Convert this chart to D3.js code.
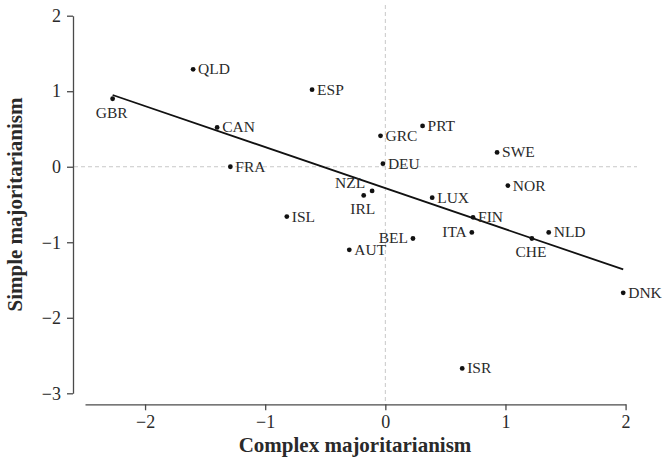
<!DOCTYPE html>
<html>
<head>
<meta charset="utf-8">
<script src="https://cdn.jsdelivr.net/npm/d3@7"></script>
<style>
  body { margin: 0; background: #fff; }
  svg { display: block; }
  text { font-family: "Liberation Serif", "Times New Roman", serif; fill: #2a2a2a; }
  .axis path, .axis line { stroke: #4a4a4a; stroke-width: 1.3; }
  .axis text { font-size: 18px; }
  .lbl { font-size: 15.5px; }
  .title { font-size: 21px; font-weight: bold; }
</style>
</head>
<body>
<svg id="chart" width="662" height="461"></svg>
<script>
var codes = ['QLD', 'GBR', 'ESP', 'CAN', 'FRA', 'GRC', 'PRT', 'DEU', 'SWE', 'NZL', 'IRL',
             'NOR', 'LUX', 'ISL', 'FIN', 'ITA', 'BEL', 'AUT', 'CHE', 'NLD', 'DNK', 'ISR'];
var complexVals = [-1.60, -2.27, -0.61, -1.40, -1.29, -0.04, 0.31, -0.02, 0.93, -0.11, -0.18,
                   1.02, 0.39, -0.82, 0.73, 0.72, 0.23, -0.30, 1.22, 1.36, 1.98, 0.64];
var simpleVals = [1.29, 0.90, 1.02, 0.52, 0.00, 0.41, 0.54, 0.04, 0.19, -0.32, -0.38,
                  -0.25, -0.41, -0.66, -0.67, -0.87, -0.95, -1.10, -0.95, -0.87, -1.67, -2.67];
// where the label sits relative to its dot
var labelSide = ['r', 'b', 'r', 'r', 'r', 'r', 'r', 'r', 'r', 'tl', 'b',
                 'r', 'r', 'r', 'r', 'l', 'l', 'r', 'b', 'r', 'r', 'r'];

// fitted line, read at its two ends
var fitX = [-2.27, 1.98];
var fitY = [0.95, -1.36];

var xTicks = [-2, -1, 0, 1, 2];
var yTicks = [-3, -2, -1, 0, 1, 2];

var svg = d3.select('#chart');

var x = d3.scaleLinear().domain([-2.5, 2]).range([85, 625.6]);
var y = d3.scaleLinear().domain([-3, 2]).range([393.3, 15.7]);

var fmt = function(d) { return d < 0 ? '\u2212' + Math.abs(d) : String(d); };

// ----- reference lines at zero ----------------------------------------------
svg.append('line')
    .attr('x1', 74).attr('x2', 637)
    .attr('y1', y(0)).attr('y2', y(0))
    .attr('stroke', '#c8c8c8').attr('stroke-width', 1)
    .attr('stroke-dasharray', '4,3');

svg.append('line')
    .attr('x1', x(0)).attr('x2', x(0))
    .attr('y1', 5).attr('y2', 403)
    .attr('stroke', '#c8c8c8').attr('stroke-width', 1)
    .attr('stroke-dasharray', '4,3');

// ----- axes -----------------------------------------------------------------
svg.append('g')
    .attr('class', 'axis')
    .attr('transform', 'translate(73,0)')
    .call(d3.axisLeft(y).tickValues(yTicks).tickFormat(fmt).tickSizeInner(6).tickSizeOuter(0).tickPadding(6))
    .call(function(g) { g.selectAll('text').attr('font-family', null).attr('font-size', null); });

svg.append('g')
    .attr('class', 'axis')
    .attr('transform', 'translate(0,404.3)')
    .call(d3.axisBottom(x).tickValues(xTicks).tickFormat(fmt).tickSizeInner(6).tickSizeOuter(0).tickPadding(5))
    .call(function(g) { g.selectAll('text').attr('font-family', null).attr('font-size', null); });

svg.append('text')
    .attr('class', 'title')
    .attr('x', 355).attr('y', 452)
    .attr('text-anchor', 'middle')
    .text('Complex majoritarianism');

svg.append('text')
    .attr('class', 'title')
    .attr('transform', 'translate(22,204.5) rotate(-90)')
    .attr('text-anchor', 'middle')
    .text('Simple majoritarianism');

// ----- fit line -------------------------------------------------------------
svg.append('line')
    .attr('x1', x(fitX[0])).attr('y1', y(fitY[0]))
    .attr('x2', x(fitX[1])).attr('y2', y(fitY[1]))
    .attr('stroke', '#111').attr('stroke-width', 1.8);

// ----- points and labels ----------------------------------------------------
var data = codes.map(function(c, i) {
  return { code: c, cx: complexVals[i], sy: simpleVals[i], side: labelSide[i] };
});

svg.selectAll('circle.pt')
    .data(data)
  .enter().append('circle')
    .attr('class', 'pt')
    .attr('cx', function(d) { return x(d.cx); })
    .attr('cy', function(d) { return y(d.sy); })
    .attr('r', 2.4)
    .attr('fill', '#111');

svg.selectAll('text.lbl')
    .data(data)
  .enter().append('text')
    .attr('class', 'lbl')
    .attr('x', function(d) {
      var px = x(d.cx);
      if (d.side === 'r') return px + 5;
      if (d.side === 'l') return px - 5;
      if (d.side === 'tl') return px - 7;
      return px - 1;
    })
    .attr('y', function(d) {
      var py = y(d.sy);
      if (d.side === 'b') return py + 19;
      if (d.side === 'tl') return py - 3;
      return py + 5;
    })
    .attr('text-anchor', function(d) {
      if (d.side === 'l' || d.side === 'tl') return 'end';
      if (d.side === 'b') return 'middle';
      return 'start';
    })
    .text(function(d) { return d.code; });
</script>
</body>
</html>
